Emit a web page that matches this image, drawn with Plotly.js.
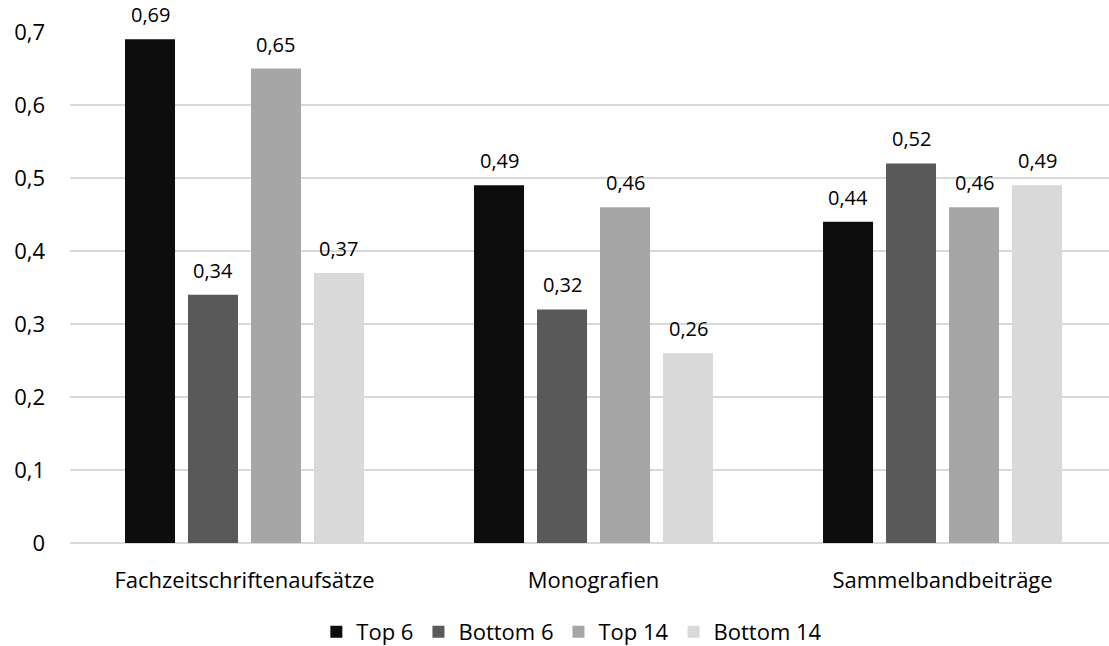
<!DOCTYPE html>
<html><head><meta charset="utf-8">
<script src="https://cdn.plot.ly/plotly-3.0.1.min.js"></script>
<style>html,body{margin:0;padding:0;background:#fff}</style>
</head><body>
<div id="chart" style="width:1109px;height:646px"></div>
<script>
const categories = ["Fachzeitschriftenaufsätze", "Monografien", "Sammelbandbeiträge"];
const seriesNames = ["Top 6", "Bottom 6", "Top 14", "Bottom 14"];
const top6 = [0.69, 0.49, 0.44];
const bottom6 = [0.34, 0.32, 0.52];
const top14 = [0.65, 0.46, 0.46];
const bottom14 = [0.37, 0.26, 0.49];
const yTicks = [0, 0.1, 0.2, 0.3, 0.4, 0.5, 0.6, 0.7];

const colors = ["#0d0d0d", "#595959", "#a6a6a6", "#d9d9d9"];
const values = [top6, bottom6, top14, bottom14];
const font = "'Open Sans', sans-serif";
const fs = 22;
const bargap = 0.278;
const xRange = [-0.5, 2.477];
const margin = {l: 70, r: 0, t: 32, b: 103};
const W = 1109, H = 646;

const fmt = n => n.toFixed(2).replace(".", ",");

const traces = values.map((v, i) => ({
  type: "bar",
  name: seriesNames[i],
  x: categories,
  y: v,
  marker: {color: colors[i]},
  hoverinfo: "none"
}));

// label positions follow the library's category scale; pixel offset per group slot
const pxPerCat = (W - margin.l - margin.r) / (xRange[1] - xRange[0]);
const slot = (1 - bargap) / values.length * pxPerCat;
const annotations = [];
values.forEach((v, i) => {
  v.forEach((val, j) => {
    annotations.push({
      x: categories[j], y: val, xref: "x", yref: "y",
      text: fmt(val), showarrow: false,
      xanchor: "center", yanchor: "bottom",
      xshift: (i - (values.length - 1) / 2) * slot, yshift: 9,
      font: {family: font, size: 20, color: "#000"}
    });
  });
});

const layout = {
  width: W, height: H,
  margin: margin,
  separators: ", ",
  barmode: "group",
  bargap: bargap,
  bargroupgap: 0.206,
  paper_bgcolor: "#fff",
  plot_bgcolor: "#fff",
  font: {family: font, size: fs, color: "#000"},
  xaxis: {
    range: xRange,
    showgrid: false, zeroline: false, showline: false,
    ticks: "", ticklabelstandoff: 22, automargin: false,
    tickfont: {family: font, size: fs, color: "#000"}
  },
  yaxis: {
    range: [0, 0.7],
    tickvals: yTicks,
    ticktext: yTicks.map(t => t === 0 ? "0" : t.toFixed(1).replace(".", ",")),
    showgrid: true, gridcolor: "#d9d9d9", gridwidth: 1.5,
    zeroline: true, zerolinecolor: "#d9d9d9", zerolinewidth: 1.5,
    showline: false, ticks: "", ticklabelstandoff: 24, automargin: false,
    tickfont: {family: font, size: fs, color: "#000"}
  },
  annotations: annotations,
  legend: {
    orientation: "h", x: 0.483, xanchor: "center",
    yref: "container", y: 0.0217, yanchor: "middle",
    font: {family: font, size: fs, color: "#000"},
    traceorder: "normal", itemwidth: 30
  },
  showlegend: true
};

Plotly.newPlot("chart", traces, layout, {displayModeBar: false, staticPlot: true});
</script>
</body></html>
